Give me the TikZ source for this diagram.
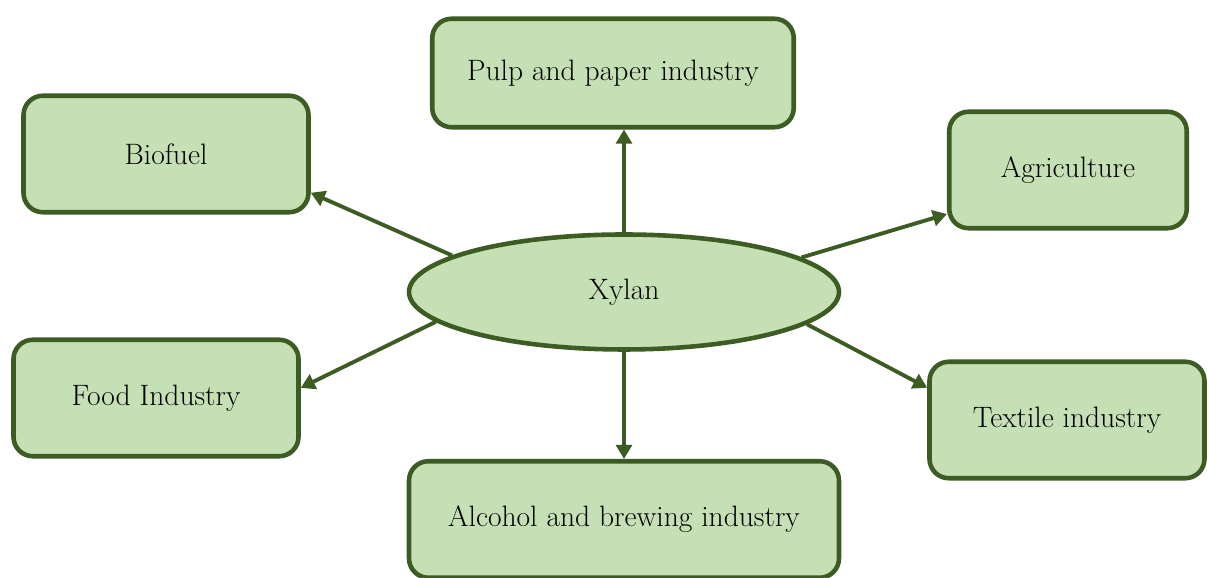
\documentclass[tikz,border=0pt]{standalone}
\usepackage{tikz}
\usetikzlibrary{arrows.meta,positioning,shapes.geometric}
\definecolor{leaf}{RGB}{60,92,36}
\definecolor{mint}{RGB}{197,224,180}
\tikzset{
  flow/.style={-{Triangle[length=8pt,width=9pt]},line width=2.2pt,draw=leaf},
  box/.style={rounded corners=11pt,draw=leaf,line width=2.6pt,fill=mint,
              align=center,minimum height=2.33cm},
  hub/.style={ellipse,draw=leaf,line width=2.6pt,fill=mint,
              minimum width=8.6cm,minimum height=2.3cm}
}
\begin{document}
\begin{tikzpicture}[font=\fontsize{16.8}{20}\selectfont]
  \useasboundingbox (0,0) rectangle (24.18,11.56);
  \node[hub] (xylan) at (12.48,5.72) {Xylan};
  \node[box,minimum width=7.23cm,minimum height=2.17cm] (pulp) at (12.26,10.1) {Pulp and paper industry};
  \node[box,minimum width=5.7cm] (biofuel) at (3.32,8.48) {Biofuel};
  \node[box,minimum width=4.75cm] (agri) at (21.36,8.16) {Agriculture};
  \node[box,minimum width=5.7cm] (food) at (3.12,3.6) {Food Industry};
  \node[box,minimum width=5.5cm] (textile) at (21.34,3.16) {Textile industry};
  \node[box,minimum width=8.6cm] (alcohol) at (12.48,1.17) {Alcohol and brewing industry};
  \draw[flow] (xylan.north) -- (xylan.north |- pulp.south);
  \draw[flow] (xylan.168) -- (biofuel.-15);
  \draw[flow] (xylan.11) -- (agri.200);
  \draw[flow] (xylan.189) -- (food.4);
  \draw[flow] (xylan.350) -- (textile.167);
  \draw[flow] (xylan.south) -- (alcohol.north);
\end{tikzpicture}
\end{document}
